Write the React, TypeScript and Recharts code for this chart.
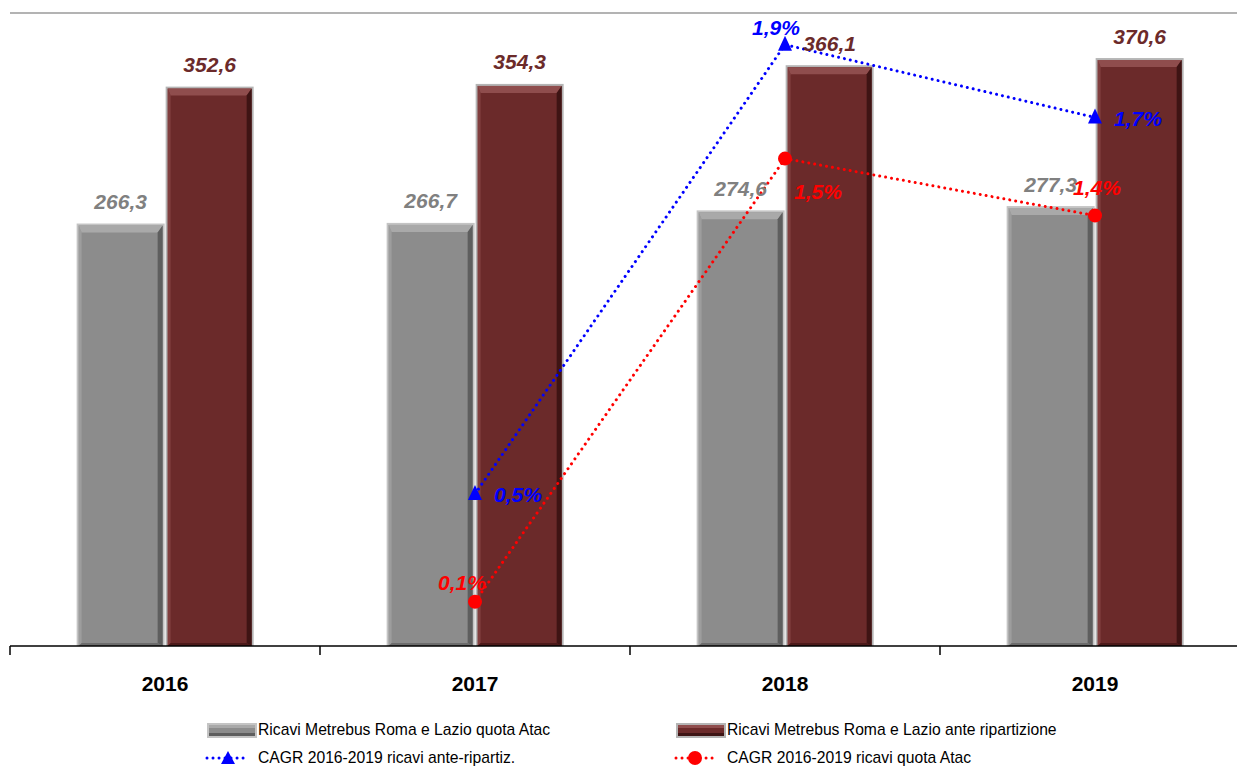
import React from 'react';
import { ComposedChart, Bar, Line, XAxis, YAxis, LabelList, ReferenceLine } from 'recharts';

const years = ['2016', '2017', '2018', '2019'];
const quotaAtac = [266.3, 266.7, 274.6, 277.3];
const anteRipartizione = [352.6, 354.3, 366.1, 370.6];
const cagrAnte: (number | null)[] = [null, 0.48, 1.9, 1.67];
const cagrQuota: (number | null)[] = [null, 0.14, 1.54, 1.36];

const seriesNames = {
  quota: 'Ricavi Metrebus Roma e Lazio quota Atac',
  ante: 'Ricavi Metrebus Roma e Lazio ante ripartizione',
  cagrAnte: 'CAGR 2016-2019 ricavi ante-ripartiz.',
  cagrQuota: 'CAGR 2016-2019 ricavi quota Atac',
};

const data = years.map((year, i) => ({
  year,
  quota: quotaAtac[i],
  ante: anteRipartizione[i],
  cagrAnte: cagrAnte[i],
  cagrQuota: cagrQuota[i],
}));

const Y_MAX = 399;
const Y2_MAX = 2;

const CHART_W = 1262;
const CHART_H = 767;
const MARGIN = { top: 13, right: 12, left: 10, bottom: 81 };
const HALF_BAND = (CHART_W - MARGIN.left - MARGIN.right) / years.length / 2;

const FONT = "'Liberation Sans', Arial, sans-serif";

const GRAY = { main: '#8c8c8c', light: '#a9a9a9', dark: '#5e5e5e', border: '#c4c4c4' };
const RED = { main: '#6b2a2a', light: '#8f4d4d', dark: '#3e1414', border: '#b5b5b5' };

const fmt = (v: number) => v.toFixed(1).replace('.', ',');

const BevelBar = (colors: typeof GRAY) => (props: any) => {
  const { x, y, width, height } = props;
  if (width == null || height == null || height <= 0) return null;
  const b = 2;
  const tb = 7;
  const rb = 5;
  const lb = 3;
  const ix = x + b;
  const iy = y + b;
  const iw = width - 2 * b;
  const ih = height - b;
  return (
    <g>
      <rect x={x} y={y} width={width} height={height} fill={colors.border} />
      <rect x={ix} y={iy} width={iw} height={ih} fill={colors.main} />
      <polygon
        points={`${ix},${iy} ${ix + iw},${iy} ${ix + iw - rb},${iy + tb} ${ix + lb},${iy + tb}`}
        fill={colors.light}
      />
      <polygon
        points={`${ix + iw},${iy} ${ix + iw},${iy + ih} ${ix + iw - rb},${iy + ih - 3} ${ix + iw - rb},${iy + tb}`}
        fill={colors.dark}
      />
      <polygon
        points={`${ix},${iy} ${ix + lb},${iy + tb} ${ix + lb},${iy + ih - 3} ${ix},${iy + ih}`}
        fill={colors.light}
        opacity={0.6}
      />
      <polygon
        points={`${ix},${iy + ih} ${ix + lb},${iy + ih - 3} ${ix + iw - rb},${iy + ih - 3} ${ix + iw},${iy + ih}`}
        fill={colors.dark}
        opacity={0.7}
      />
    </g>
  );
};

const GrayBar = BevelBar(GRAY);
const RedBar = BevelBar(RED);

const barLabel = (color: string) => (props: any) => {
  const { x, y, width, value } = props;
  if (value == null) return null;
  return (
    <text
      x={x + width / 2}
      y={y - 22}
      textAnchor="middle"
      dominantBaseline="central"
      fill={color}
      fontFamily={FONT}
      fontWeight="bold"
      fontStyle="italic"
      fontSize={21}
    >
      {fmt(value)}
    </text>
  );
};

// label offsets (dx, dy) relative to each line point, by category index
const ANTE_LABEL_OFFSETS = [
  [0, 0],
  [43, 0],
  [-9, -17],
  [43, 1],
];
const QUOTA_LABEL_OFFSETS = [
  [0, 0],
  [-13, -19],
  [33, 33],
  [2, -28],
];

const lineLabel = (color: string, offsets: number[][]) => (props: any) => {
  const { x, y, value, index } = props;
  if (value == null || x == null || y == null) return null;
  const [dx, dy] = offsets[index] || [0, 0];
  return (
    <text
      x={x + dx}
      y={y + dy}
      textAnchor="middle"
      dominantBaseline="central"
      fill={color}
      fontFamily={FONT}
      fontWeight="bold"
      fontStyle="italic"
      fontSize={21}
    >
      {fmt(value)}%
    </text>
  );
};

const TriangleDot = (props: any) => {
  const { cx, cy, payload } = props;
  if (cx == null || cy == null || payload?.cagrAnte == null) return null;
  return <polygon points={`${cx},${cy - 9} ${cx + 7},${cy + 6} ${cx - 7},${cy + 6}`} fill="#0000ff" />;
};

const CircleDot = (props: any) => {
  const { cx, cy, payload } = props;
  if (cx == null || cy == null || payload?.cagrQuota == null) return null;
  return <circle cx={cx} cy={cy} r={7} fill="#ff0000" />;
};

const CategoryTick = (props: any) => {
  const { x, y, payload } = props;
  return (
    <g>
      <line x1={x - HALF_BAND} x2={x - HALF_BAND} y1={y} y2={y + 9} stroke="#000" strokeWidth={1.5} />
      <text
        x={x}
        y={y + 45}
        textAnchor="middle"
        fill="#000"
        fontFamily={FONT}
        fontWeight="bold"
        fontSize={21}
      >
        {payload.value}
      </text>
    </g>
  );
};

const legendText: React.CSSProperties = {
  fontFamily: FONT,
  fontSize: 15.7,
  color: '#000',
  whiteSpace: 'nowrap',
  lineHeight: '18px',
};

const BarIcon = ({ c }: { c: typeof GRAY }) => (
  <svg width={50} height={15} style={{ display: 'block' }}>
    <rect x={0} y={0} width={50} height={15} fill={c.border} />
    <rect x={2} y={2} width={46} height={11} fill={c.main} />
    <rect x={2} y={2} width={46} height={3} fill={c.light} />
    <rect x={2} y={10} width={46} height={3} fill={c.dark} />
  </svg>
);

const LineIcon = ({ color, marker }: { color: string; marker: 'tri' | 'circle' }) => (
  <svg width={46} height={16} style={{ display: 'block' }}>
    <line x1={2} y1={8} x2={44} y2={8} stroke={color} strokeWidth={3} strokeDasharray="0.01 6" strokeLinecap="round" />
    {marker === 'tri' ? (
      <polygon points="23,1 30,14 16,14" fill={color} />
    ) : (
      <circle cx={21} cy={8} r={7} fill={color} />
    )}
  </svg>
);

const LegendItem = ({ left, top, icon, label, textLeft }: any) => (
  <div style={{ position: 'absolute', left, top, height: 18 }}>
    <div style={{ position: 'absolute', left: 0, top: 0, height: 18, display: 'flex', alignItems: 'center' }}>{icon}</div>
    <div style={{ ...legendText, position: 'absolute', left: textLeft, top: 0 }}>{label}</div>
  </div>
);

export default function App() {
  return (
    <div
      style={{
        position: 'absolute',
        left: 0,
        top: 0,
        width: 1237,
        height: 767,
        overflow: 'hidden',
        background: '#fff',
      }}
    >
      <ComposedChart width={CHART_W} height={CHART_H} data={data} margin={MARGIN} barCategoryGap="21.5%" barGap={1}>
        <XAxis
          dataKey="year"
          tick={<CategoryTick />}
          tickLine={false}
          tickSize={0}
          tickMargin={0}
          height={40}
          axisLine={{ stroke: '#000', strokeWidth: 1.5 }}
          interval={0}
        />
        <YAxis
          yAxisId="left"
          domain={[0, Y_MAX]}
          width={0}
          tick={false}
          tickLine={false}
          axisLine={{ stroke: '#000', strokeWidth: 1.5 }}
          allowDataOverflow
        />
        <YAxis yAxisId="right" orientation="right" domain={[0, Y2_MAX]} hide allowDataOverflow />
        <ReferenceLine yAxisId="left" y={Y_MAX} stroke="#b3b3b3" strokeWidth={2} />
        <Bar
          yAxisId="left"
          dataKey="quota"
          name={seriesNames.quota}
          fill={GRAY.main}
          shape={GrayBar}
          isAnimationActive={false}
        >
          <LabelList dataKey="quota" content={barLabel('#808080')} />
        </Bar>
        <Bar
          yAxisId="left"
          dataKey="ante"
          name={seriesNames.ante}
          fill={RED.main}
          shape={RedBar}
          isAnimationActive={false}
        >
          <LabelList dataKey="ante" content={barLabel('#6b2a2a')} />
        </Bar>
        <Line
          yAxisId="right"
          dataKey="cagrAnte"
          name={seriesNames.cagrAnte}
          stroke="#0000ff"
          strokeWidth={3}
          strokeDasharray="0.01 6"
          strokeLinecap="round"
          dot={<TriangleDot />}
          activeDot={false}
          connectNulls={false}
          isAnimationActive={false}
        >
          <LabelList dataKey="cagrAnte" content={lineLabel('#0000ff', ANTE_LABEL_OFFSETS)} />
        </Line>
        <Line
          yAxisId="right"
          dataKey="cagrQuota"
          name={seriesNames.cagrQuota}
          stroke="#ff0000"
          strokeWidth={3}
          strokeDasharray="0.01 6"
          strokeLinecap="round"
          dot={<CircleDot />}
          activeDot={false}
          connectNulls={false}
          isAnimationActive={false}
        >
          <LabelList dataKey="cagrQuota" content={lineLabel('#ff0000', QUOTA_LABEL_OFFSETS)} />
        </Line>
      </ComposedChart>

      <LegendItem left={207} top={721} icon={<BarIcon c={GRAY} />} label={seriesNames.quota} textLeft={51} />
      <LegendItem left={676} top={721} icon={<BarIcon c={RED} />} label={seriesNames.ante} textLeft={51} />
      <LegendItem left={205} top={749} icon={<LineIcon color="#0000ff" marker="tri" />} label={seriesNames.cagrAnte} textLeft={53} />
      <LegendItem left={674} top={749} icon={<LineIcon color="#ff0000" marker="circle" />} label={seriesNames.cagrQuota} textLeft={53} />
    </div>
  );
}
